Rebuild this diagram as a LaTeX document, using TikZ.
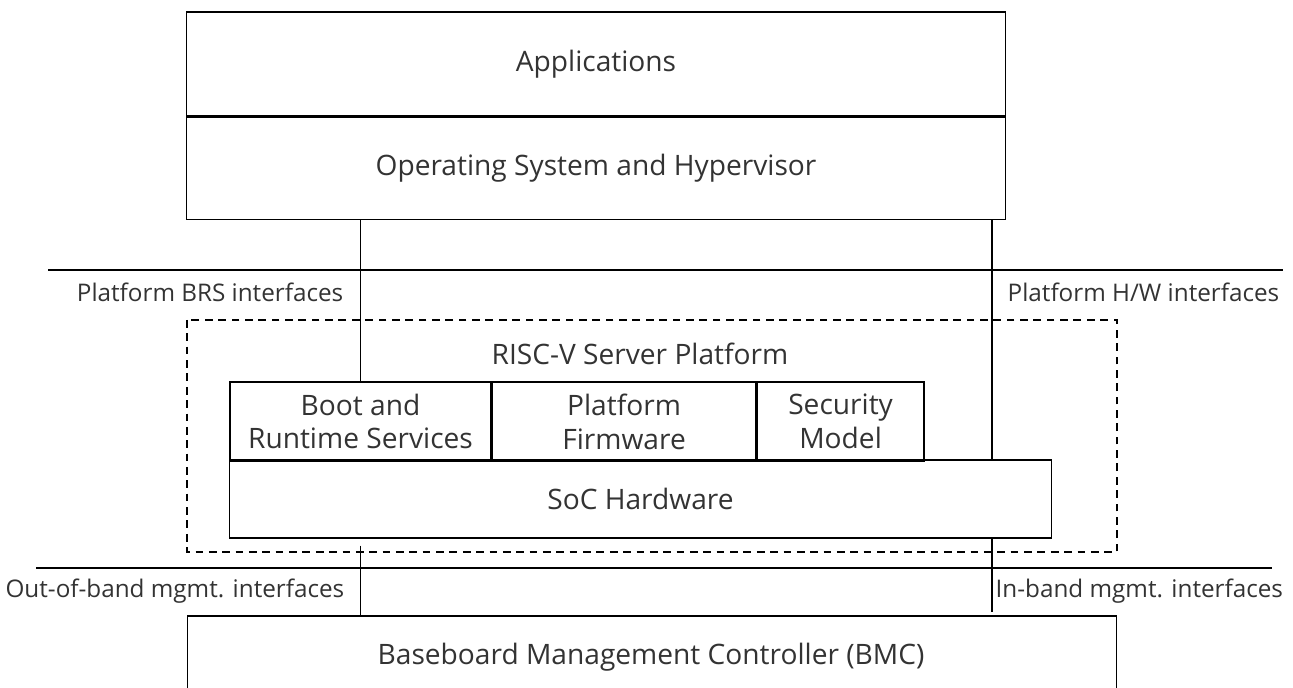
\documentclass[tikz,border=0pt]{standalone}
\usepackage{fontspec}
\setmainfont{Open Sans}
\usetikzlibrary{positioning}
\begin{document}
\begin{tikzpicture}[
      x=0.01cm, y=-0.01cm,
      every node/.style={font=\fontsize{8}{9.6}\selectfont, text=black!80},
      couche/.style={
        draw,
        inner sep=0pt,
        align=center
      },
      etiquette/.style={
        inner sep=0pt,
        font=\fontsize{6.9}{8.3}\selectfont
      }
    ]
    \clip (0,0) rectangle (1293,688);
    % pile logicielle
    \node[couche, minimum width=8.18cm, minimum height=1.04cm] (apps) at (596,64) {Applications} ;
    \node[couche, minimum width=8.18cm, minimum height=1.02cm, below=0pt of apps] (os) {Operating System and Hypervisor} ;
    \draw[line width=0.8pt] (apps.south west) -- (apps.south east) ;
    % interfaces plateforme
    \coordinate (hw) at (992,0);
    \draw (48,270) -- (1283,270);
    \node[etiquette, anchor=east] (brs) at (344,292) {Platform BRS interfaces} ;
    \node[etiquette, anchor=west] (hwif) at (1007,292) {Platform H/W interfaces} ;
    % plateforme serveur
    \draw[dash pattern=on 2.2pt off 1.6pt] (187,320) rectangle (1117,552);
    \node (plat) at (640,354) {RISC-V Server Platform} ;
    \node[couche, minimum width=2.61cm, minimum height=0.79cm] (boot) at (360.5,421.5) {Boot and\\Runtime Services} ;
    \node[couche, minimum width=2.63cm, minimum height=0.79cm, right=0pt of boot] (fw) {Platform\\Firmware} ;
    \node[couche, minimum width=1.67cm, minimum height=0.79cm, right=0pt of fw] (sec) {Security\\Model} ;
    \node[couche, minimum width=8.21cm, minimum height=0.78cm] (soc) at (640.5,499) {SoC Hardware} ;
    % interfaces de gestion
    \draw (36,568) -- (1272,568);
    \node[etiquette, anchor=east] (oob) at (345,591) {Out-of-band mgmt. interfaces} ;
    \node[etiquette, anchor=west] (inb) at (995,591) {In-band mgmt. interfaces} ;
    \node[couche, minimum width=9.28cm, minimum height=1.2cm] (bmc) at (652,676) {} ;
    \node (bmctxt) at (651,657) {Baseboard Management Controller (BMC)} ;
    % liaisons
    \draw (os.south -| boot) -- (boot.north) ;
    \draw (os.south -| hw) -- (soc.north -| hw) ;
    \draw ([yshift=-0.07cm]soc.south -| boot) -- (bmc.north -| boot) ;
    \draw (soc.south -| hw) -- ([yshift=0.03cm]bmc.north -| hw) ;
  \end{tikzpicture}
\end{document}
